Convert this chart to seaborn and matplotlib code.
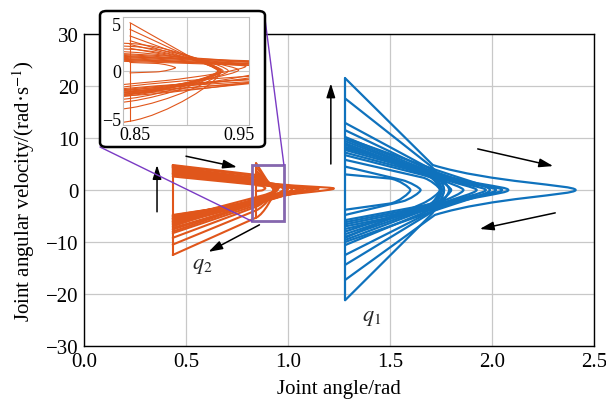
import matplotlib
matplotlib.use("Agg")
import matplotlib.pyplot as plt
from matplotlib.path import Path
from matplotlib.patches import PathPatch, Rectangle, FancyBboxPatch, ConnectionPatch
import seaborn as sns
import pandas as pd

# ---------------- data ----------------
# q1 (blue) loops: start at reset angle, knee, tip (v=0), lower knee, end
q1_reset_x = 1.28
q1_start_v = [21.5, 17.6, 12.9, 11.5, 10.2, 9.8, 9.4, 9.0, 8.7, 8.3, 8.0, 7.7, 7.2, 6.7, 5.8, 4.5, 3.0, 10.0]
q1_knee_x  = [1.71, 1.70, 1.72, 1.72, 1.73, 1.73, 1.74, 1.74, 1.74, 1.72, 1.72, 1.71, 1.70, 1.69, 1.66, 1.56, 1.50, 1.73]
q1_knee_v  = [4.8, 4.6, 3.6, 3.3, 3.0, 2.7, 2.4, 2.1, 1.8, 3.2, 3.4, 3.0, 2.8, 2.6, 2.4, 1.9, 2.2, 3.8]
q1_tip_x   = [2.41, 1.765, 2.08, 2.05, 2.02, 1.97, 1.925, 1.86, 1.80, 1.79, 1.765, 1.755, 1.75, 1.745, 1.745, 1.65, 1.60, 1.99]
q1_lknee_x = [1.72, 1.70, 1.72, 1.73, 1.73, 1.73, 1.74, 1.74, 1.74, 1.72, 1.72, 1.71, 1.70, 1.69, 1.66, 1.56, 1.50, 1.73]
q1_lknee_v = [-4.8, -4.8, -3.9, -3.6, -3.3, -3.0, -2.7, -2.4, -2.1, -3.4, -3.6, -3.2, -3.0, -2.8, -2.6, -2.2, -2.6, -3.8]
q1_end_v   = [-17.3, -21.2, -14.4, -12.5, -10.6, -9.6, -9.0, -8.5, -8.0, -7.5, -7.0, -6.6, -6.2, -5.8, -9.2, -4.8, -3.8, -10.0]

# q2 (orange) loops
q2_start_x = [0.435] * 15 + [0.845] * 7
q2_start_v = [4.6, 4.3, 4.0, 3.6, 3.2, 2.9, 2.6, 4.8, 4.4, 4.7, 4.5, 4.2, 3.8, 3.4, 3.1,
              5.1, 4.4, 3.7, 3.2, 2.8, 2.4, 0.9]
q2_knee_x  = [0.845] * 15 + [0.90, 0.90, 0.90, 0.90, 0.90, 0.90, 0.87]
q2_knee_v  = [1.6, 1.5, 1.4, 1.3, 1.2, 1.1, 1.0, 2.9, 2.3, 2.6, 2.0, 1.8, 1.7, 1.5, 1.2,
              1.7, 1.6, 1.5, 1.4, 1.4, 1.3, 0.8]
q2_tip_x   = [1.225, 1.10, 1.05, 1.00, 0.957, 1.15, 1.06, 0.933, 0.935, 0.94, 0.95, 1.02, 0.98, 1.08, 1.12,
              0.933, 0.933, 0.932, 0.931, 0.93, 0.93, 0.889]
q2_tip_v   = [0.3, 0.3, 0.2, 0.2, 0.5, 0.3, 0.2, 0.0, 0.0, 0.0, 0.1, 0.2, 0.2, 0.3, 0.3,
              0.0, 0.0, 0.0, 0.0, 0.0, 0.0, 0.35]
q2_lknee_x = [0.845, 0.845, 0.845, 0.845, 0.88, 0.845, 0.845, 0.845, 0.845, 0.845, 0.845, 0.845, 0.845, 0.845, 0.845,
              0.845, 0.845, 0.845, 0.845, 0.845, 0.845, 0.87]
q2_lknee_v = [-2.0, -2.2, -2.4, -2.1, -1.0, -1.8, -1.6, -2.5, -2.2, -2.3, -2.0, -2.6, -2.2, -1.9, -2.4,
              -5.3, -3.9, -3.2, -2.9, -2.6, -2.4, -0.1]
q2_end_x   = [0.435] * 21 + [0.845]
q2_end_v   = [-6.0, -5.4, -4.8, -5.1, -5.6, -5.8, -7.0, -8.0, -6.3, -4.9, -5.2, -5.5, -6.1, -6.5, -7.6,
              -12.5, -10.5, -9.2, -8.3, -7.3, -6.7, -0.2]

# reset (impact) jumps
reset_x  = [1.28, 1.28, 0.435, 0.435, 0.845, 0.845]
reset_v  = [-21.2, 21.5, -12.5, 4.8, -5.3, 5.1]
reset_id = ["q1", "q1", "q2a", "q2a", "q2b", "q2b"]

x_ticks = [0.0, 0.5, 1.0, 1.5, 2.0, 2.5]
y_ticks = [-30, -20, -10, 0, 10, 20, 30]

BLUE = "#0F72BD"
ORANGE = "#E0561B"
PURPLE = "#8567AE"

sns.set_theme(style="whitegrid")
plt.rcParams["font.family"] = ["Liberation Serif", "DejaVu Serif"]
plt.rcParams["mathtext.fontset"] = "stix"


def branch_ctrl(x0, v0, xk, vk, xt, vt):
    s = (vk - v0) / (xk - x0)
    dx = xt - xk
    rel = vk - vt
    cand = vk + 0.4 * dx * s
    lim = vt + 0.3 * rel
    p1v = max(cand, lim) if rel > 0 else min(cand, lim)
    return (xk + 0.4 * dx, p1v), (xt, vt + 0.2 * rel)


def add_loop(ax, sx, sv, kx, kv, tx, tv, lkx, lkv, ex, ev, color, lw):
    p1u, p2u = branch_ctrl(sx, sv, kx, kv, tx, tv)
    p1l, p2l = branch_ctrl(ex, ev, lkx, lkv, tx, tv)
    verts = [(sx, sv), (kx, kv), p1u, p2u, (tx, tv), p2l, p1l, (lkx, lkv), (ex, ev)]
    codes = [Path.MOVETO, Path.LINETO, Path.CURVE4, Path.CURVE4, Path.CURVE4,
             Path.CURVE4, Path.CURVE4, Path.CURVE4, Path.LINETO]
    ax.add_patch(PathPatch(Path(verts, codes), facecolor="none", edgecolor=color,
                           lw=lw, capstyle="round", joinstyle="round"))


def draw_all(ax, lw_b, lw_o, do_blue=True):
    df = pd.DataFrame({"x": reset_x, "v": reset_v, "id": reset_id})
    if do_blue:
        for i in range(len(q1_start_v)):
            add_loop(ax, q1_reset_x, q1_start_v[i], q1_knee_x[i], q1_knee_v[i],
                     q1_tip_x[i], 0.0, q1_lknee_x[i], q1_lknee_v[i],
                     q1_reset_x, q1_end_v[i], BLUE, lw_b)
        sns.lineplot(data=df[df.id == "q1"], x="x", y="v", sort=False, ax=ax,
                     color=BLUE, lw=lw_b, legend=False, estimator=None)
    for i in range(len(q2_start_v)):
        add_loop(ax, q2_start_x[i], q2_start_v[i], q2_knee_x[i], q2_knee_v[i],
                 q2_tip_x[i], q2_tip_v[i], q2_lknee_x[i], q2_lknee_v[i],
                 q2_end_x[i], q2_end_v[i], ORANGE, lw_o)
    for k in ["q2a", "q2b"]:
        sns.lineplot(data=df[df.id == k], x="x", y="v", sort=False, ax=ax,
                     color=ORANGE, lw=lw_o, legend=False, estimator=None)


fig = plt.figure(figsize=(6.06, 4.10), dpi=100)
ax = fig.add_axes([0.1386, 0.1537, 0.8416, 0.7609])
ax.set_facecolor("white")
draw_all(ax, 1.6, 1.5)
ax.set_xlim(0, 2.5)
ax.set_ylim(-30, 30)
ax.set_xticks(x_ticks)
ax.set_xticklabels([f"{t:.1f}" for t in x_ticks])
ax.set_yticks(y_ticks)
ax.set_yticklabels([str(t) if t >= 0 else "\u2212" + str(-t) for t in y_ticks])
ax.grid(True, color="#c8c8c8", lw=0.9)
ax.tick_params(length=0, labelsize=15, pad=4, colors="black")
for sp in ax.spines.values():
    sp.set_color("black")
    sp.set_linewidth(1.0)
ax.set_xlabel("Joint angle/rad", fontsize=15, color="black", labelpad=6)
ax.set_ylabel("Joint angular velocity/(rad\u00b7s$^{-1}$)", fontsize=15, color="black", labelpad=6)

# zoom rectangle
ax.add_patch(Rectangle((0.823, -6.0), 0.157, 10.8, facecolor="none",
                       edgecolor=PURPLE, lw=2.0, zorder=5))

# arrows
arrow_from = [(1.21, 5.0), (1.93, 7.9), (2.31, -4.4), (0.358, -4.2), (0.50, 6.5), (0.86, -6.7)]
arrow_to   = [(1.21, 20.5), (2.30, 4.6), (1.94, -7.5), (0.358, 4.8), (0.75, 4.4), (0.61, -11.9)]
for a, b in zip(arrow_from, arrow_to):
    ax.annotate("", xy=b, xytext=a,
                arrowprops=dict(arrowstyle="-|>,head_length=0.7,head_width=0.22",
                                color="black", lw=1.1, shrinkA=0, shrinkB=0), zorder=6)

ax.text(0.58, -14.6, "$q_2$", fontsize=16, ha="center", va="center")
ax.text(1.41, -24.6, "$q_1$", fontsize=16, ha="center", va="center")

# connector lines
W, H = 606.0, 410.0
c1 = ConnectionPatch(xyA=(0.823, -6.0), coordsA=ax.transData,
                     xyB=(100 / W, 1 - 148 / H), coordsB=fig.transFigure,
                     color="#7A3BC4", lw=1.0, zorder=0.5)
c2 = ConnectionPatch(xyA=(0.98, 4.8), coordsA=ax.transData,
                     xyB=(265 / W, 1 - 20 / H), coordsB=fig.transFigure,
                     color="#7A3BC4", lw=1.0, zorder=0.5)
fig.add_artist(c1)
fig.add_artist(c2)

# inset frame
box = FancyBboxPatch((100 / W, 1 - 148 / H), 165 / W, 136 / H,
                     boxstyle="round,pad=0,rounding_size=0.011",
                     transform=fig.transFigure, facecolor="white",
                     edgecolor="black", lw=1.8, zorder=1)
fig.add_artist(box)

axi = fig.add_axes([122.7 / W, 1 - 126 / H, 126.3 / W, 108 / H])
axi.set_zorder(3)
axi.set_facecolor("white")
draw_all(axi, 0.8, 0.8, do_blue=False)
axi.set_xlim(0.838, 0.96)
axi.set_ylim(-5.7, 5.7)
axi.set_xticks([0.85, 0.95])
axi.set_xticklabels(["0.85", "0.95"])
axi.set_yticks([-5, 0, 5])
axi.set_yticklabels(["\u22125", "0", "5"])
axi.grid(False)
axi.axvline(0.9, color="#c8c8c8", lw=0.8, zorder=0)
axi.axhline(0.0, color="#c8c8c8", lw=0.8, zorder=0)
axi.tick_params(length=0, labelsize=13, pad=1, colors="black")
axi.set_xlabel("")
axi.set_ylabel("")
for sp in axi.spines.values():
    sp.set_color("#bdbdbd")
    sp.set_linewidth(0.8)

fig.savefig("out.png", dpi=100)
